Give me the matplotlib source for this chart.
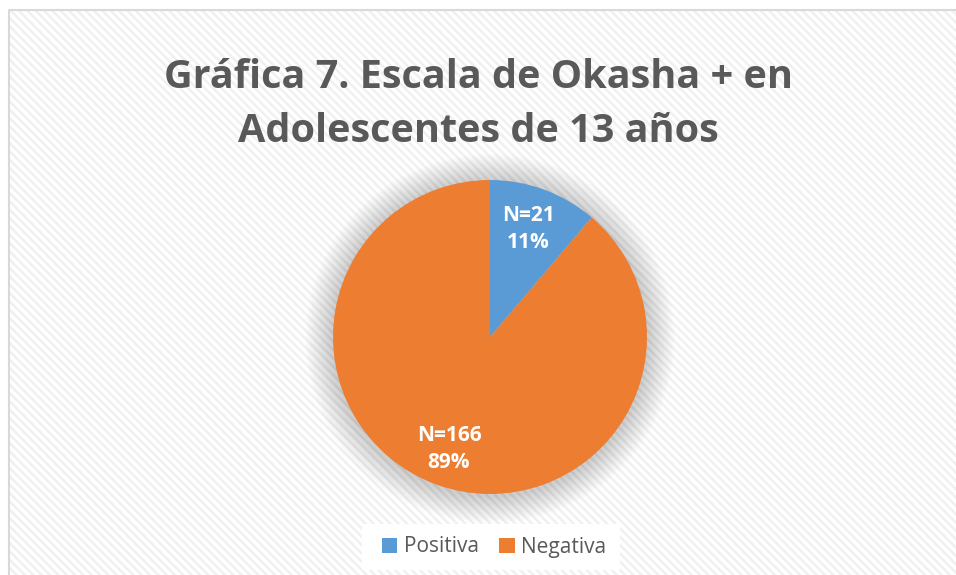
import numpy as np
import matplotlib.pyplot as plt
from matplotlib.patches import Rectangle, Circle

categories = ["Positiva", "Negativa"]
counts = [21, 166]
percent_labels = ["11%", "89%"]
colors = ["#5B9BD5", "#ED7D31"]
title = "Gráfica 7. Escala de Okasha + en\nAdolescentes de 13 años"

plt.rcParams['font.family'] = ['Open Sans', 'DejaVu Sans']
plt.rcParams['hatch.linewidth'] = 1.8

W, H = 956, 575
fig = plt.figure(figsize=(W / 100, H / 100), dpi=100)

# chart area background with diagonal stripes
bg = fig.add_axes([0, 0, 1, 1])
bg.set_xlim(0, W)
bg.set_ylim(H, 0)
bg.axis('off')
bg.add_patch(Rectangle((10, 10), W, H, facecolor='white', edgecolor='#f0f0f0',
                       linewidth=0, hatch='\\\\\\\\'))
bg.plot([9.5, 9.5, W], [H, 9.5, 9.5], color='#d9d9d9', lw=1.5)

# white legend box
bg.add_patch(Rectangle((362, 524), 258, 46, facecolor='white', edgecolor='none', zorder=2))

fig.text(0.5, 1 - 104 / H, title, ha='center', va='center', fontsize=28.5,
         fontweight='bold', color='#595959', linespacing=1.5)

cx, cy, r = 490, 337, 157
ax = fig.add_axes([(cx - r) / W, (H - cy - r) / H, 2 * r / W, 2 * r / H])

# soft shadow around the pie
for i in range(16):
    ax.add_patch(Circle((0, -0.01), 1 + 0.011 * (16 - i), facecolor='#000000',
                        alpha=0.01, edgecolor='none', clip_on=False))

wedges, _ = ax.pie(counts, colors=colors, startangle=90, counterclock=False,
                   radius=1, wedgeprops=dict(edgecolor='none'))
ax.set_xlim(-1, 1)
ax.set_ylim(-1, 1)
ax.set_aspect('equal')
ax.axis('off')

labels = [f"N={n}\n{p}" for n, p in zip(counts, percent_labels)]
label_pos = [(528, 229), (449, 449)]
for lab, (px, py) in zip(labels, label_pos):
    ax.text((px - cx) / r, (cy - py) / r, lab, ha='center', va='center',
            fontsize=15, fontweight='bold', color='white', linespacing=1.4)

leg = fig.legend(wedges, categories, loc='center', bbox_to_anchor=(494 / W, 1 - 547 / H),
                 ncol=2, frameon=False, fontsize=15, handlelength=0.75, handleheight=0.75,
                 handletextpad=0.3, columnspacing=1.0)
for t in leg.get_texts():
    t.set_color('#595959')

fig.savefig('out.png', dpi=100)
